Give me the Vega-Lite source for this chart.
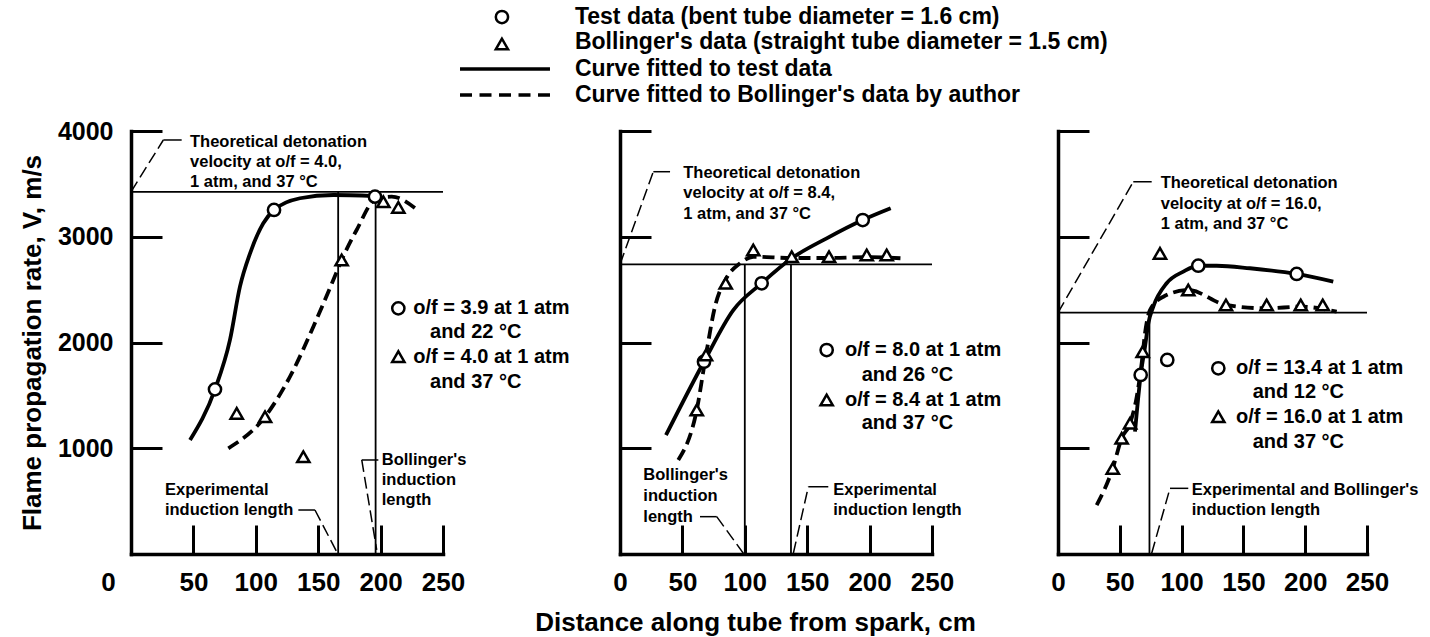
{
  "$schema": "https://vega.github.io/schema/vega-lite/v6.json",
  "autosize": {"type": "none"},
  "padding": {"left": 131, "top": 131, "right": 1299, "bottom": 506},
  "background": "white",
  "config": {
    "view": {"stroke": null},
    "font": "Liberation Sans",
    "axis": {"domainColor": "black", "tickColor": "black", "domainWidth": 3.5, "tickWidth": 3, "domainCap": "square", "labelColor": "black", "titleColor": "black", "labelFont": "Liberation Sans", "titleFont": "Liberation Sans", "labelFontWeight": "bold", "titleFontWeight": "bold", "grid": false, "labelFlush": false, "labelOverlap": false}
  },
  "datasets": {
    "all": [
      {"p":1,"t":"ref","x":0,"x2":250,"y":3425,"y2":3425},
      {"p":1,"t":"ref","x":166,"x2":166,"y":0,"y2":3425},
      {"p":1,"t":"ref","x":196,"x2":196,"y":0,"y2":3425},
      {"p":1,"t":"ld","id":"a","x":0,"y":3425},{"p":1,"t":"ld","id":"a","x":25.9,"y":3915},
      {"p":1,"t":"ls","id":"a","x":25.9,"y":3915},{"p":1,"t":"ls","id":"a","x":40.6,"y":3915},
      {"p":1,"t":"ls","id":"b","x":134.1,"y":416},{"p":1,"t":"ls","id":"b","x":147.4,"y":416},
      {"p":1,"t":"ld","id":"b","x":147.4,"y":416},{"p":1,"t":"ld","id":"b","x":164.8,"y":22},
      {"p":1,"t":"ls","id":"c","x":184.9,"y":889},{"p":1,"t":"ls","id":"c","x":198.2,"y":889},
      {"p":1,"t":"ld","id":"c","x":184.9,"y":889},{"p":1,"t":"ld","id":"c","x":196.9,"y":38},
      {"p":1,"t":"cs","x":47.3,"y":1078},{"p":1,"t":"cs","x":67.3,"y":1557},{"p":1,"t":"cs","x":79.3,"y":2024},{"p":1,"t":"cs","x":87.3,"y":2528},{"p":1,"t":"cs","x":95.4,"y":2843},{"p":1,"t":"cs","x":106,"y":3127},{"p":1,"t":"cs","x":114.6,"y":3253},{"p":1,"t":"cs","x":135.4,"y":3364},{"p":1,"t":"cs","x":162.1,"y":3395},{"p":1,"t":"cs","x":195.5,"y":3385},
      {"p":1,"t":"cd","x":78,"y":999},{"p":1,"t":"cd","x":107.4,"y":1298},{"p":1,"t":"cd","x":127.4,"y":1677},{"p":1,"t":"cd","x":146.1,"y":2149},{"p":1,"t":"cd","x":162.1,"y":2591},{"p":1,"t":"cd","x":168.8,"y":2780},{"p":1,"t":"cd","x":180.8,"y":3064},{"p":1,"t":"cd","x":195.5,"y":3348},{"p":1,"t":"cd","x":208.9,"y":3379},{"p":1,"t":"cd","x":228.9,"y":3260},
      {"p":1,"t":"pt","k":"test","x":67.3,"y":1557},
      {"p":1,"t":"pt","k":"test","x":114.6,"y":3253},
      {"p":1,"t":"pt","k":"test","x":195.5,"y":3379},
      {"p":1,"t":"pt","k":"test","x":214.2,"y":2323},
      {"p":1,"t":"pt","k":"boll","x":84.7,"y":1330},
      {"p":1,"t":"pt","k":"boll","x":107.4,"y":1298},
      {"p":1,"t":"pt","k":"boll","x":138.1,"y":920},
      {"p":1,"t":"pt","k":"boll","x":168.8,"y":2780},
      {"p":1,"t":"pt","k":"boll","x":202.2,"y":3331},
      {"p":1,"t":"pt","k":"boll","x":214.2,"y":3278},
      {"p":1,"t":"pt","k":"boll","x":214.2,"y":1866},
      {"p":1,"t":"ts","x":47.3,"y":3899,"text":"Theoretical detonation"},
      {"p":1,"t":"ts","x":47.3,"y":3710,"text":"velocity at o/f = 4.0,"},
      {"p":1,"t":"ts","x":47.3,"y":3521,"text":"1 atm, and 37 °C"},
      {"p":1,"t":"ts","x":27.2,"y":605,"text":"Experimental"},
      {"p":1,"t":"ts","x":27.2,"y":416,"text":"induction length"},
      {"p":1,"t":"ts","x":200.9,"y":889,"text":"Bollinger's"},
      {"p":1,"t":"ts","x":200.9,"y":700,"text":"induction"},
      {"p":1,"t":"ts","x":200.9,"y":511,"text":"length"},
      {"p":1,"t":"tm","x":226.2,"y":2323,"text":"o/f = 3.9 at 1 atm"},
      {"p":1,"t":"tm","x":239.6,"y":2102,"text":"and 22 °C"},
      {"p":1,"t":"tm","x":226.2,"y":1866,"text":"o/f = 4.0 at 1 atm"},
      {"p":1,"t":"tm","x":239.6,"y":1629,"text":"and 37 °C"},

      {"p":2,"t":"pt","k":"test","x":-94.6,"y":5078},
      {"p":2,"t":"pt","k":"boll","x":-94.6,"y":4823},
      {"p":2,"t":"ls","id":"leg1","x":-128.2,"y":4586},{"p":2,"t":"ls","id":"leg1","x":-56.1,"y":4586},
      {"p":2,"t":"cl","id":"leg2","x":-128.2,"y":4340},{"p":2,"t":"cl","id":"leg2","x":-56.1,"y":4340},
      {"p":2,"t":"tl","x":-36.1,"y":5078,"text":"Test data (bent tube diameter = 1.6 cm)"},
      {"p":2,"t":"tl","x":-36.1,"y":4837,"text":"Bollinger's data (straight tube diameter = 1.5 cm)"},
      {"p":2,"t":"tl","x":-36.1,"y":4586,"text":"Curve fitted to test data"},
      {"p":2,"t":"tl","x":-36.1,"y":4340,"text":"Curve fitted to Bollinger's data by author"},

      {"p":2,"t":"ref","x":0,"x2":250,"y":2739,"y2":2739},
      {"p":2,"t":"ref","x":100,"x2":100,"y":0,"y2":2739},
      {"p":2,"t":"ref","x":137,"x2":137,"y":0,"y2":2739},
      {"p":2,"t":"ld","id":"a","x":0,"y":2739},{"p":2,"t":"ld","id":"a","x":26.7,"y":3615},
      {"p":2,"t":"ls","id":"a","x":26.7,"y":3615},{"p":2,"t":"ls","id":"a","x":40.1,"y":3615},
      {"p":2,"t":"ls","id":"b","x":64.1,"y":353},{"p":2,"t":"ls","id":"b","x":77.5,"y":353},
      {"p":2,"t":"ld","id":"b","x":77.5,"y":353},{"p":2,"t":"ld","id":"b","x":98.8,"y":7},
      {"p":2,"t":"ls","id":"c","x":150.9,"y":636},{"p":2,"t":"ls","id":"c","x":166.9,"y":636},
      {"p":2,"t":"ld","id":"c","x":150.9,"y":636},{"p":2,"t":"ld","id":"c","x":138.9,"y":7},
      {"p":2,"t":"cs","x":36.9,"y":1125},{"p":2,"t":"cs","x":67.3,"y":1818},{"p":2,"t":"cs","x":90.8,"y":2307},{"p":2,"t":"cs","x":113.5,"y":2560},{"p":2,"t":"cs","x":137.6,"y":2796},{"p":2,"t":"cs","x":165.6,"y":2985},{"p":2,"t":"cs","x":194.5,"y":3158},{"p":2,"t":"cs","x":216.9,"y":3269},
      {"p":2,"t":"cd","x":46.7,"y":889},{"p":2,"t":"cd","x":61.5,"y":1362},{"p":2,"t":"cd","x":68.9,"y":1882},{"p":2,"t":"cd","x":76.1,"y":2339},{"p":2,"t":"cd","x":85.5,"y":2613},{"p":2,"t":"cd","x":96.2,"y":2749},{"p":2,"t":"cd","x":106.8,"y":2811},{"p":2,"t":"cd","x":137.6,"y":2799},{"p":2,"t":"cd","x":167.5,"y":2799},{"p":2,"t":"cd","x":197.7,"y":2808},{"p":2,"t":"cd","x":225.7,"y":2796},
      {"p":2,"t":"pt","k":"test","x":67.3,"y":1818},
      {"p":2,"t":"pt","k":"test","x":113.5,"y":2560},
      {"p":2,"t":"pt","k":"test","x":194.5,"y":3158},
      {"p":2,"t":"pt","k":"test","x":165.6,"y":1929},
      {"p":2,"t":"pt","k":"boll","x":61.5,"y":1362},
      {"p":2,"t":"pt","k":"boll","x":68.9,"y":1882},
      {"p":2,"t":"pt","k":"boll","x":84.7,"y":2560},
      {"p":2,"t":"pt","k":"boll","x":106.8,"y":2875},
      {"p":2,"t":"pt","k":"boll","x":137.6,"y":2811},
      {"p":2,"t":"pt","k":"boll","x":167.5,"y":2811},
      {"p":2,"t":"pt","k":"boll","x":197.7,"y":2827},
      {"p":2,"t":"pt","k":"boll","x":213.7,"y":2827},
      {"p":2,"t":"pt","k":"boll","x":165.6,"y":1456},
      {"p":2,"t":"ts","x":50.7,"y":3600,"text":"Theoretical detonation"},
      {"p":2,"t":"ts","x":50.7,"y":3411,"text":"velocity at o/f = 8.4,"},
      {"p":2,"t":"ts","x":50.7,"y":3212,"text":"1 atm, and 37 °C"},
      {"p":2,"t":"ts","x":18.7,"y":747,"text":"Bollinger's"},
      {"p":2,"t":"ts","x":18.7,"y":548,"text":"induction"},
      {"p":2,"t":"ts","x":18.7,"y":353,"text":"length"},
      {"p":2,"t":"ts","x":170.9,"y":605,"text":"Experimental"},
      {"p":2,"t":"ts","x":170.9,"y":416,"text":"induction length"},
      {"p":2,"t":"tm","x":180.3,"y":1929,"text":"o/f = 8.0 at 1 atm"},
      {"p":2,"t":"tm","x":193.7,"y":1693,"text":"and 26 °C"},
      {"p":2,"t":"tm","x":180.3,"y":1456,"text":"o/f = 8.4 at 1 atm"},
      {"p":2,"t":"tm","x":193.7,"y":1236,"text":"and 37 °C"},

      {"p":3,"t":"ref","x":0,"x2":250,"y":2282,"y2":2282},
      {"p":3,"t":"ref","x":74,"x2":74,"y":0,"y2":2282},
      {"p":3,"t":"ld","id":"a","x":0,"y":2282},{"p":3,"t":"ld","id":"a","x":60.9,"y":3520},
      {"p":3,"t":"ls","id":"a","x":60.9,"y":3520},{"p":3,"t":"ls","id":"a","x":75.8,"y":3520},
      {"p":3,"t":"ls","id":"b","x":90.6,"y":621},{"p":3,"t":"ls","id":"b","x":105.4,"y":621},
      {"p":3,"t":"ld","id":"b","x":90.6,"y":621},{"p":3,"t":"ld","id":"b","x":75.8,"y":7},
      {"p":3,"t":"cs","x":62.3,"y":1157},{"p":3,"t":"cs","x":66.9,"y":1693},{"p":3,"t":"cs","x":70.4,"y":1960},{"p":3,"t":"cs","x":73.1,"y":2182},{"p":3,"t":"cs","x":77.1,"y":2339},{"p":3,"t":"cs","x":87.9,"y":2560},{"p":3,"t":"cs","x":101.4,"y":2670},{"p":3,"t":"cs","x":113.5,"y":2726},{"p":3,"t":"cs","x":128.4,"y":2726},{"p":3,"t":"cs","x":155.3,"y":2702},{"p":3,"t":"cs","x":193.1,"y":2648},{"p":3,"t":"cs","x":222.7,"y":2575},
      {"p":3,"t":"cd","x":31.3,"y":463},{"p":3,"t":"cd","x":44.3,"y":810},{"p":3,"t":"cd","x":51.5,"y":1094},{"p":3,"t":"cd","x":58.3,"y":1236},{"p":3,"t":"cd","x":63.7,"y":1487},{"p":3,"t":"cd","x":67.7,"y":1803},{"p":3,"t":"cd","x":70.4,"y":2087},{"p":3,"t":"cd","x":74.4,"y":2307},{"p":3,"t":"cd","x":85.2,"y":2433},{"p":3,"t":"cd","x":105.4,"y":2496},{"p":3,"t":"cd","x":135.9,"y":2355},{"p":3,"t":"cd","x":168.8,"y":2323},{"p":3,"t":"cd","x":196.4,"y":2339},{"p":3,"t":"cd","x":225.5,"y":2291},
      {"p":3,"t":"pt","k":"test","x":66.9,"y":1693},
      {"p":3,"t":"pt","k":"test","x":88.4,"y":1835},
      {"p":3,"t":"pt","k":"test","x":113.5,"y":2726},
      {"p":3,"t":"pt","k":"test","x":193.1,"y":2648},
      {"p":3,"t":"pt","k":"test","x":129.7,"y":1756},
      {"p":3,"t":"pt","k":"boll","x":44.3,"y":810},
      {"p":3,"t":"pt","k":"boll","x":51.5,"y":1094},
      {"p":3,"t":"pt","k":"boll","x":58.3,"y":1236},
      {"p":3,"t":"pt","k":"boll","x":68.5,"y":1913},
      {"p":3,"t":"pt","k":"boll","x":82.5,"y":2843},
      {"p":3,"t":"pt","k":"boll","x":105.4,"y":2496},
      {"p":3,"t":"pt","k":"boll","x":135.9,"y":2355},
      {"p":3,"t":"pt","k":"boll","x":168.8,"y":2355},
      {"p":3,"t":"pt","k":"boll","x":196.4,"y":2355},
      {"p":3,"t":"pt","k":"boll","x":214.2,"y":2355},
      {"p":3,"t":"pt","k":"boll","x":129.7,"y":1298},
      {"p":3,"t":"ts","x":83.1,"y":3505,"text":"Theoretical detonation"},
      {"p":3,"t":"ts","x":83.1,"y":3310,"text":"velocity at o/f = 16.0,"},
      {"p":3,"t":"ts","x":83.1,"y":3118,"text":"1 atm, and 37 °C"},
      {"p":3,"t":"ts","x":108.2,"y":605,"text":"Experimental and Bollinger's"},
      {"p":3,"t":"ts","x":108.2,"y":416,"text":"induction length"},
      {"p":3,"t":"tm","x":144,"y":1756,"text":"o/f = 13.4 at 1 atm"},
      {"p":3,"t":"tm","x":157.5,"y":1535,"text":"and 12 °C"},
      {"p":3,"t":"tm","x":144,"y":1298,"text":"o/f = 16.0 at 1 atm"},
      {"p":3,"t":"tm","x":157.5,"y":1062,"text":"and 37 °C"}
    ]
  },
  "spacing": 177,
  "bounds": "flush",
  "hconcat": [
    {
      "width": 312, "height": 423,
      "data": {"name": "all"},
      "transform": [{"filter": "datum.p == 1"}],
      "encoding": {
        "x": {"field": "x", "type": "quantitative", "scale": {"domain": [0, 250], "nice": false, "zero": false},
              "axis": {"values": [0, 50, 100, 150, 200, 250], "tickSize": -29, "labelPadding": 44, "labelFontSize": 26, "title": null,
                       "labelOffset": {"condition": {"test": "datum.value === 0", "value": -23}, "value": 0}}},
        "y": {"field": "y", "type": "quantitative", "scale": {"domain": [0, 4000], "nice": false},
              "axis": {"values": [1000, 2000, 3000, 4000], "format": "d", "tickSize": -31, "labelPadding": 49, "labelFontSize": 25,
                       "title": "Flame propagation rate, V, m/s", "titleFontSize": 26, "titlePadding": 12}}
      },
      "layer": [
        {"transform": [{"filter": "datum.t == 'ref'"}], "mark": {"type": "rule", "stroke": "black", "strokeWidth": 1.8}, "encoding": {"x2": {"field": "x2"}, "y2": {"field": "y2"}}},
        {"transform": [{"filter": "datum.t == 'ld'"}], "mark": {"type": "line", "stroke": "black", "strokeWidth": 1.5, "strokeDash": [12, 5]}, "encoding": {"detail": {"field": "id"}}},
        {"transform": [{"filter": "datum.t == 'ls'"}], "mark": {"type": "line", "stroke": "black", "strokeWidth": 1.5}, "encoding": {"detail": {"field": "id"}}},
        {"transform": [{"filter": "datum.t == 'cs'"}], "mark": {"type": "line", "stroke": "black", "strokeWidth": 3.8, "interpolate": "monotone"}, "encoding": {}},
        {"transform": [{"filter": "datum.t == 'cd'"}], "mark": {"type": "line", "stroke": "black", "strokeWidth": 3.8, "strokeDash": [12, 6], "interpolate": "monotone"}, "encoding": {}},
        {"transform": [{"filter": "datum.t == 'pt'"}], "mark": {"type": "point", "size": 150, "filled": true, "fill": "white", "stroke": "black", "strokeWidth": 2.5, "opacity": 1},
         "encoding": {"shape": {"field": "k", "type": "nominal", "scale": {"domain": ["test", "boll"], "range": ["circle", "triangle-up"]}, "legend": null}}},
        {"transform": [{"filter": "datum.t == 'ts'"}], "mark": {"type": "text", "align": "left", "baseline": "middle", "fontSize": 16.5, "fontWeight": "bold", "font": "Liberation Sans", "color": "black"}, "encoding": {"text": {"field": "text"}}},
        {"transform": [{"filter": "datum.t == 'tm'"}], "mark": {"type": "text", "align": "left", "baseline": "middle", "fontSize": 20, "fontWeight": "bold", "font": "Liberation Sans", "color": "black"}, "encoding": {"text": {"field": "text"}}}
      ]
    },
    {
      "spacing": 126,
      "bounds": "flush",
      "hconcat": [
        {
          "width": 312, "height": 423,
          "data": {"name": "all"},
          "transform": [{"filter": "datum.p == 2"}],
          "encoding": {
            "x": {"field": "x", "type": "quantitative", "scale": {"domain": [0, 250], "nice": false, "zero": false},
                  "axis": {"values": [0, 50, 100, 150, 200, 250], "tickSize": -29, "labelPadding": 44, "labelFontSize": 26,
                           "title": "Distance along tube from spark, cm", "titleFontSize": 26, "titleX": 135, "titleY": 68, "titleBaseline": "middle", "titleAlign": "center"}},
            "y": {"field": "y", "type": "quantitative", "scale": {"domain": [0, 4000], "nice": false},
                  "axis": {"values": [1000, 2000, 3000, 4000], "tickSize": -31, "labels": false, "title": null}}
          },
          "layer": [
            {"transform": [{"filter": "datum.t == 'ref'"}], "mark": {"type": "rule", "stroke": "black", "strokeWidth": 1.8}, "encoding": {"x2": {"field": "x2"}, "y2": {"field": "y2"}}},
            {"transform": [{"filter": "datum.t == 'ld'"}], "mark": {"type": "line", "stroke": "black", "strokeWidth": 1.5, "strokeDash": [12, 5]}, "encoding": {"detail": {"field": "id"}}},
            {"transform": [{"filter": "datum.t == 'ls' && datum.id != 'leg1'"}], "mark": {"type": "line", "stroke": "black", "strokeWidth": 1.5}, "encoding": {"detail": {"field": "id"}}},
            {"transform": [{"filter": "datum.t == 'ls' && datum.id == 'leg1'"}], "mark": {"type": "line", "stroke": "black", "strokeWidth": 3.5}, "encoding": {"detail": {"field": "id"}}},
            {"transform": [{"filter": "datum.t == 'cl'"}], "mark": {"type": "line", "stroke": "black", "strokeWidth": 3.5, "strokeDash": [12, 7.5]}, "encoding": {"detail": {"field": "id"}}},
            {"transform": [{"filter": "datum.t == 'cs'"}], "mark": {"type": "line", "stroke": "black", "strokeWidth": 3.8, "interpolate": "monotone"}, "encoding": {}},
            {"transform": [{"filter": "datum.t == 'cd'"}], "mark": {"type": "line", "stroke": "black", "strokeWidth": 3.8, "strokeDash": [12, 6], "interpolate": "monotone"}, "encoding": {}},
            {"transform": [{"filter": "datum.t == 'pt'"}], "mark": {"type": "point", "size": 150, "filled": true, "fill": "white", "stroke": "black", "strokeWidth": 2.5, "opacity": 1},
             "encoding": {"shape": {"field": "k", "type": "nominal", "scale": {"domain": ["test", "boll"], "range": ["circle", "triangle-up"]}, "legend": null}}},
            {"transform": [{"filter": "datum.t == 'ts'"}], "mark": {"type": "text", "align": "left", "baseline": "middle", "fontSize": 16.5, "fontWeight": "bold", "font": "Liberation Sans", "color": "black"}, "encoding": {"text": {"field": "text"}}},
            {"transform": [{"filter": "datum.t == 'tm'"}], "mark": {"type": "text", "align": "left", "baseline": "middle", "fontSize": 20, "fontWeight": "bold", "font": "Liberation Sans", "color": "black"}, "encoding": {"text": {"field": "text"}}},
            {"transform": [{"filter": "datum.t == 'tl'"}], "mark": {"type": "text", "align": "left", "baseline": "middle", "fontSize": 23, "fontWeight": "bold", "font": "Liberation Sans", "color": "black"}, "encoding": {"text": {"field": "text"}}}
          ]
        },
        {
          "width": 309, "height": 423,
          "data": {"name": "all"},
          "transform": [{"filter": "datum.p == 3"}],
          "encoding": {
            "x": {"field": "x", "type": "quantitative", "scale": {"domain": [0, 250], "nice": false, "zero": false},
                  "axis": {"values": [0, 50, 100, 150, 200, 250], "tickSize": -29, "labelPadding": 44, "labelFontSize": 26, "title": null}},
            "y": {"field": "y", "type": "quantitative", "scale": {"domain": [0, 4000], "nice": false},
                  "axis": {"values": [1000, 2000, 3000, 4000], "tickSize": -31, "labels": false, "title": null}}
          },
          "layer": [
            {"transform": [{"filter": "datum.t == 'ref'"}], "mark": {"type": "rule", "stroke": "black", "strokeWidth": 1.8}, "encoding": {"x2": {"field": "x2"}, "y2": {"field": "y2"}}},
            {"transform": [{"filter": "datum.t == 'ld'"}], "mark": {"type": "line", "stroke": "black", "strokeWidth": 1.5, "strokeDash": [12, 5]}, "encoding": {"detail": {"field": "id"}}},
            {"transform": [{"filter": "datum.t == 'ls'"}], "mark": {"type": "line", "stroke": "black", "strokeWidth": 1.5}, "encoding": {"detail": {"field": "id"}}},
            {"transform": [{"filter": "datum.t == 'cs'"}], "mark": {"type": "line", "stroke": "black", "strokeWidth": 3.8, "interpolate": "monotone"}, "encoding": {}},
            {"transform": [{"filter": "datum.t == 'cd'"}], "mark": {"type": "line", "stroke": "black", "strokeWidth": 3.8, "strokeDash": [12, 6], "interpolate": "monotone"}, "encoding": {}},
            {"transform": [{"filter": "datum.t == 'pt'"}], "mark": {"type": "point", "size": 150, "filled": true, "fill": "white", "stroke": "black", "strokeWidth": 2.5, "opacity": 1},
             "encoding": {"shape": {"field": "k", "type": "nominal", "scale": {"domain": ["test", "boll"], "range": ["circle", "triangle-up"]}, "legend": null}}},
            {"transform": [{"filter": "datum.t == 'ts'"}], "mark": {"type": "text", "align": "left", "baseline": "middle", "fontSize": 16.5, "fontWeight": "bold", "font": "Liberation Sans", "color": "black"}, "encoding": {"text": {"field": "text"}}},
            {"transform": [{"filter": "datum.t == 'tm'"}], "mark": {"type": "text", "align": "left", "baseline": "middle", "fontSize": 20, "fontWeight": "bold", "font": "Liberation Sans", "color": "black"}, "encoding": {"text": {"field": "text"}}}
          ]
        }
      ]
    }
  ]
}
